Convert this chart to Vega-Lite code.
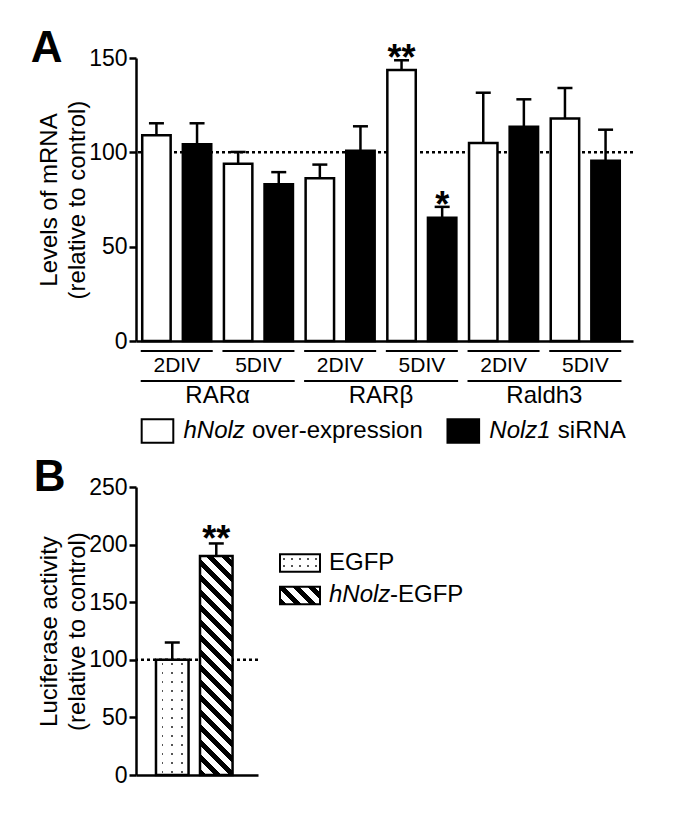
{
  "$schema": "https://vega.github.io/schema/vega-lite/v6.json",
  "padding": {"left": 30, "top": 27, "right": 5, "bottom": 5},
  "background": "white",
  "config": {
    "font": "Liberation Sans",
    "view": {"stroke": null},
    "axis": {"domainColor": "black", "tickColor": "black", "labelColor": "black", "titleColor": "black", "grid": false, "labelFontSize": 23, "titleFontSize": 24, "titleFontWeight": "normal", "domainWidth": 2.5, "tickWidth": 2.5, "tickSize": 7, "labelPadding": 2},
    "title": {"color": "black"},
    "text": {"color": "black"}
  },
  "datasets": {
    "A": [
      {"group": "RARα 2DIV", "treatment": "over", "value": 109, "upper": 115.4, "star": ""},
      {"group": "RARα 2DIV", "treatment": "siRNA", "value": 104.3, "upper": 115.4, "star": ""},
      {"group": "RARα 5DIV", "treatment": "over", "value": 94, "upper": 100.2, "star": ""},
      {"group": "RARα 5DIV", "treatment": "siRNA", "value": 83.1, "upper": 89.5, "star": ""},
      {"group": "RARβ 2DIV", "treatment": "over", "value": 86.3, "upper": 93.5, "star": ""},
      {"group": "RARβ 2DIV", "treatment": "siRNA", "value": 100.9, "upper": 113.8, "star": ""},
      {"group": "RARβ 5DIV", "treatment": "over", "value": 143.6, "upper": 148.8, "star": "**"},
      {"group": "RARβ 5DIV", "treatment": "siRNA", "value": 65.3, "upper": 71.1, "star": "*"},
      {"group": "Raldh3 2DIV", "treatment": "over", "value": 105, "upper": 131.6, "star": ""},
      {"group": "Raldh3 2DIV", "treatment": "siRNA", "value": 113.5, "upper": 128.1, "star": ""},
      {"group": "Raldh3 5DIV", "treatment": "over", "value": 117.9, "upper": 134.1, "star": ""},
      {"group": "Raldh3 5DIV", "treatment": "siRNA", "value": 95.6, "upper": 112, "star": ""}
    ],
    "groups": [
      {"group": "RARα 2DIV", "div": "2DIV"},
      {"group": "RARα 5DIV", "div": "5DIV"},
      {"group": "RARβ 2DIV", "div": "2DIV"},
      {"group": "RARβ 5DIV", "div": "5DIV"},
      {"group": "Raldh3 2DIV", "div": "2DIV"},
      {"group": "Raldh3 5DIV", "div": "5DIV"}
    ],
    "genes": [{"gene": "RARα"}, {"gene": "RARβ"}, {"gene": "Raldh3"}],
    "legendA": [
      {"treatment": "over", "italic": "hNolz", "rest": "over-expression"},
      {"treatment": "siRNA", "italic": "Nolz1", "rest": "siRNA"}
    ],
    "B": [
      {"construct": "EGFP", "value": 100, "upper": 115, "star": ""},
      {"construct": "hNolz-EGFP", "value": 190, "upper": 201, "star": "**"}
    ],
    "legendB": [
      {"construct": "EGFP", "italic": "", "rest": "EGFP"},
      {"construct": "hNolz-EGFP", "italic": "hNolz", "rest": "-EGFP"}
    ],
    "ref": [{"control": 100}]
  },
  "spacing": 0,
  "bounds": "flush",
  "vconcat": [
    {
      "width": 497,
      "height": 283,
      "title": {"text": "A", "anchor": "start", "frame": "bounds", "fontSize": 44, "fontWeight": "bold", "baseline": "alphabetic", "offset": -65, "dx": -7},
      "layer": [
        {
          "data": {"name": "ref"},
          "mark": {"type": "rule", "strokeDash": [3, 3], "strokeWidth": 2.5, "color": "black"},
          "encoding": {
            "y": {"field": "control", "type": "quantitative", "scale": {"domain": [0, 150], "nice": false}, "axis": {"values": [0, 50, 100, 150], "title": ["Levels of mRNA", "(relative to control)"], "titlePadding": -1, "titleLineHeight": 28}}
          }
        },
        {
          "data": {"name": "A"},
          "mark": {"type": "bar", "stroke": "black", "strokeWidth": 2.5},
          "encoding": {
            "x": {"field": "group", "type": "nominal", "scale": {"domain": ["RARα 2DIV", "RARα 5DIV", "RARβ 2DIV", "RARβ 5DIV", "Raldh3 2DIV", "Raldh3 5DIV"], "paddingInner": 0.155, "paddingOuter": 0.119, "align": 0.32}, "axis": {"labels": false, "ticks": false, "title": null, "domain": true}},
            "xOffset": {"field": "treatment", "type": "nominal", "scale": {"domain": ["over", "siRNA"], "paddingInner": 0.3, "paddingOuter": 0}},
            "y": {"field": "value", "type": "quantitative", "scale": {"domain": [0, 150], "nice": false}, "axis": {"values": [0, 50, 100, 150], "title": ["Levels of mRNA", "(relative to control)"], "titlePadding": -1, "titleLineHeight": 28}},
            "fill": {"field": "treatment", "type": "nominal", "scale": {"domain": ["over", "siRNA"], "range": ["white", "black"]}, "legend": null}
          }
        },
        {
          "data": {"name": "A"},
          "mark": {"type": "rule", "strokeWidth": 2.5, "color": "black"},
          "encoding": {
            "x": {"field": "group", "type": "nominal", "scale": {"domain": ["RARα 2DIV", "RARα 5DIV", "RARβ 2DIV", "RARβ 5DIV", "Raldh3 2DIV", "Raldh3 5DIV"], "paddingInner": 0.155, "paddingOuter": 0.119, "align": 0.32}, "axis": {"labels": false, "ticks": false, "title": null, "domain": true}},
            "xOffset": {"field": "treatment", "type": "nominal", "scale": {"domain": ["over", "siRNA"], "paddingInner": 0.3, "paddingOuter": 0}},
            "y": {"field": "value", "type": "quantitative", "scale": {"domain": [0, 150], "nice": false}, "axis": {"values": [0, 50, 100, 150], "title": ["Levels of mRNA", "(relative to control)"], "titlePadding": -1, "titleLineHeight": 28}},
            "y2": {"field": "upper"}
          }
        },
        {
          "data": {"name": "A"},
          "mark": {"type": "tick", "orient": "horizontal", "size": 15, "thickness": 2.5, "color": "black", "opacity": 1},
          "encoding": {
            "x": {"field": "group", "type": "nominal", "scale": {"domain": ["RARα 2DIV", "RARα 5DIV", "RARβ 2DIV", "RARβ 5DIV", "Raldh3 2DIV", "Raldh3 5DIV"], "paddingInner": 0.155, "paddingOuter": 0.119, "align": 0.32}, "axis": {"labels": false, "ticks": false, "title": null, "domain": true}},
            "xOffset": {"field": "treatment", "type": "nominal", "scale": {"domain": ["over", "siRNA"], "paddingInner": 0.3, "paddingOuter": 0}},
            "y": {"field": "upper", "type": "quantitative", "scale": {"domain": [0, 150], "nice": false}, "axis": {"values": [0, 50, 100, 150], "title": ["Levels of mRNA", "(relative to control)"], "titlePadding": -1, "titleLineHeight": 28}}
          }
        },
        {
          "data": {"name": "A"},
          "transform": [{"filter": "datum.star != ''"}],
          "mark": {"type": "text", "fontSize": 36, "fontWeight": "bold", "baseline": "alphabetic", "dy": 10, "color": "black"},
          "encoding": {
            "x": {"field": "group", "type": "nominal", "scale": {"domain": ["RARα 2DIV", "RARα 5DIV", "RARβ 2DIV", "RARβ 5DIV", "Raldh3 2DIV", "Raldh3 5DIV"], "paddingInner": 0.155, "paddingOuter": 0.119, "align": 0.32}, "axis": {"labels": false, "ticks": false, "title": null, "domain": true}},
            "xOffset": {"field": "treatment", "type": "nominal", "scale": {"domain": ["over", "siRNA"], "paddingInner": 0.3, "paddingOuter": 0}},
            "y": {"field": "upper", "type": "quantitative", "scale": {"domain": [0, 150], "nice": false}, "axis": {"values": [0, 50, 100, 150], "title": ["Levels of mRNA", "(relative to control)"], "titlePadding": -1, "titleLineHeight": 28}},
            "text": {"field": "star"}
          }
        }
      ]
    },
    {
      "width": 497,
      "height": 75,
      "resolve": {"scale": {"x": "independent"}},
      "layer": [
        {
          "data": {"name": "groups"},
          "mark": {"type": "tick", "orient": "horizontal", "size": 72, "thickness": 2, "color": "black", "opacity": 1},
          "encoding": {
            "x": {"field": "group", "type": "nominal", "scale": {"domain": ["RARα 2DIV", "RARα 5DIV", "RARβ 2DIV", "RARβ 5DIV", "Raldh3 2DIV", "Raldh3 5DIV"], "paddingInner": 0.155, "paddingOuter": 0.119, "align": 0.32}, "axis": null},
            "y": {"datum": "pairline", "type": "nominal", "scale": {"type": "point", "domain": ["pairline", "divtext", "geneline", "genetext"], "padding": 1, "align": 0.3333}, "axis": null}
          }
        },
        {
          "data": {"name": "groups"},
          "mark": {"type": "text", "fontSize": 21, "align": "center", "baseline": "middle", "color": "black"},
          "encoding": {
            "x": {"field": "group", "type": "nominal", "scale": {"type": "point", "domain": ["RARα 2DIV", "RARα 5DIV", "RARβ 2DIV", "RARβ 5DIV", "Raldh3 2DIV", "Raldh3 5DIV"], "padding": 0.5416, "align": 0.461}, "axis": null},
            "y": {"datum": "divtext", "type": "nominal", "scale": {"type": "point", "domain": ["pairline", "divtext", "geneline", "genetext"], "padding": 1, "align": 0.3333}, "axis": null},
            "text": {"field": "div"}
          }
        },
        {
          "data": {"name": "genes"},
          "mark": {"type": "tick", "orient": "horizontal", "size": 154, "thickness": 2, "color": "black", "opacity": 1},
          "encoding": {
            "x": {"field": "gene", "type": "nominal", "scale": {"domain": ["RARα", "RARβ", "Raldh3"], "paddingInner": 0, "paddingOuter": 0.0208, "align": 0}, "axis": null},
            "y": {"datum": "geneline", "type": "nominal", "scale": {"type": "point", "domain": ["pairline", "divtext", "geneline", "genetext"], "padding": 1, "align": 0.3333}, "axis": null}
          }
        },
        {
          "data": {"name": "genes"},
          "mark": {"type": "text", "fontSize": 24, "align": "center", "baseline": "middle", "color": "black"},
          "encoding": {
            "x": {"field": "gene", "type": "nominal", "scale": {"type": "point", "domain": ["RARα", "RARβ", "Raldh3"], "padding": 0.5208, "align": 0.4794}, "axis": null},
            "y": {"datum": "genetext", "type": "nominal", "scale": {"type": "point", "domain": ["pairline", "divtext", "geneline", "genetext"], "padding": 1, "align": 0.3333}, "axis": null},
            "text": {"field": "gene"}
          }
        }
      ]
    },
    {
      "width": 497,
      "height": 71,
      "data": {"name": "legendA"},
      "encoding": {
        "x": {"field": "treatment", "type": "nominal", "scale": {"type": "point", "domain": ["over", "siRNA"], "padding": 0.3126, "align": 0.1124}, "axis": null},
        "y": {"datum": "legend", "type": "nominal", "scale": {"type": "point", "domain": ["legend"], "padding": 0, "align": 0.211}, "axis": null}
      },
      "layer": [
        {
          "mark": {"type": "point", "shape": "M-1,-0.737L1,-0.737L1,0.737L-1,0.737Z", "size": 1000, "filled": true, "stroke": "black", "strokeWidth": 2, "opacity": 1},
          "encoding": {
            "fill": {"field": "treatment", "type": "nominal", "scale": {"domain": ["over", "siRNA"], "range": ["white", "black"]}, "legend": null}
          }
        },
        {
          "mark": {"type": "text", "fontSize": 24, "fontStyle": "italic", "align": "left", "baseline": "middle", "dx": 26, "color": "black"},
          "encoding": {"text": {"field": "italic"}}
        },
        {
          "mark": {"type": "text", "fontSize": 24, "align": "left", "baseline": "middle", "dx": 94.5, "color": "black"},
          "encoding": {"text": {"field": "rest"}}
        }
      ]
    },
    {
      "spacing": 22,
      "bounds": "flush",
      "hconcat": [
        {
          "width": 122,
          "height": 288,
          "title": {"text": "B", "anchor": "start", "frame": "bounds", "fontSize": 44, "fontWeight": "bold", "baseline": "alphabetic", "offset": -59, "dx": -4},
          "layer": [
            {
              "data": {"name": "ref"},
              "mark": {"type": "rule", "strokeDash": [3, 3], "strokeWidth": 2.5, "color": "black"},
              "encoding": {
                "y": {"field": "control", "type": "quantitative", "scale": {"domain": [0, 250], "nice": false}, "axis": {"values": [0, 50, 100, 150, 200, 250], "title": ["Luciferase activity", "(relative to control)"], "titlePadding": -1, "titleLineHeight": 28}}
              }
            },
            {
              "data": {"name": "B"},
              "transform": [{"filter": "datum.construct == 'EGFP'"}],
              "mark": {"type": "bar", "strokeWidth": 0, "fill": {"gradient": "linear", "x1": 0, "y1": 0, "x2": 1, "y2": 0, "stops": [
                {"offset": 0, "color": "white"}, {"offset": 0.17, "color": "white"}, {"offset": 0.17, "color": "#555555"}, {"offset": 0.23, "color": "#555555"}, {"offset": 0.23, "color": "white"},
                {"offset": 0.47, "color": "white"}, {"offset": 0.47, "color": "#555555"}, {"offset": 0.53, "color": "#555555"}, {"offset": 0.53, "color": "white"},
                {"offset": 0.77, "color": "white"}, {"offset": 0.77, "color": "#555555"}, {"offset": 0.83, "color": "#555555"}, {"offset": 0.83, "color": "white"}, {"offset": 1, "color": "white"}]}},
              "encoding": {
                "x": {"field": "construct", "type": "nominal", "scale": {"domain": ["EGFP", "hNolz-EGFP"], "paddingInner": 0.26, "paddingOuter": 0.516, "align": 0.44}, "axis": {"labels": false, "ticks": false, "title": null, "domain": true}},
                "y": {"field": "value", "type": "quantitative", "scale": {"domain": [0, 250], "nice": false}, "axis": {"values": [0, 50, 100, 150, 200, 250], "title": ["Luciferase activity", "(relative to control)"], "titlePadding": -1, "titleLineHeight": 28}}
              }
            },
            {
              "data": {"name": "B"},
              "transform": [{"filter": "datum.construct == 'EGFP'"}],
              "mark": {"type": "bar", "stroke": "black", "strokeWidth": 2.5, "fill": {"gradient": "linear", "x1": 0, "y1": 0, "x2": 0, "y2": 1, "stops": [
                {"offset": 0, "color": "white"}, {"offset": 0.0304, "color": "white"}, {"offset": 0.0304, "color": "rgba(255,255,255,0)"}, {"offset": 0.0477, "color": "rgba(255,255,255,0)"}, {"offset": 0.0477, "color": "white"},
                {"offset": 0.1085, "color": "white"}, {"offset": 0.1085, "color": "rgba(255,255,255,0)"}, {"offset": 0.1259, "color": "rgba(255,255,255,0)"}, {"offset": 0.1259, "color": "white"},
                {"offset": 0.1866, "color": "white"}, {"offset": 0.1866, "color": "rgba(255,255,255,0)"}, {"offset": 0.2040, "color": "rgba(255,255,255,0)"}, {"offset": 0.2040, "color": "white"},
                {"offset": 0.2648, "color": "white"}, {"offset": 0.2648, "color": "rgba(255,255,255,0)"}, {"offset": 0.2821, "color": "rgba(255,255,255,0)"}, {"offset": 0.2821, "color": "white"},
                {"offset": 0.3429, "color": "white"}, {"offset": 0.3429, "color": "rgba(255,255,255,0)"}, {"offset": 0.3602, "color": "rgba(255,255,255,0)"}, {"offset": 0.3602, "color": "white"},
                {"offset": 0.4210, "color": "white"}, {"offset": 0.4210, "color": "rgba(255,255,255,0)"}, {"offset": 0.4384, "color": "rgba(255,255,255,0)"}, {"offset": 0.4384, "color": "white"},
                {"offset": 0.4991, "color": "white"}, {"offset": 0.4991, "color": "rgba(255,255,255,0)"}, {"offset": 0.5165, "color": "rgba(255,255,255,0)"}, {"offset": 0.5165, "color": "white"},
                {"offset": 0.5773, "color": "white"}, {"offset": 0.5773, "color": "rgba(255,255,255,0)"}, {"offset": 0.5946, "color": "rgba(255,255,255,0)"}, {"offset": 0.5946, "color": "white"},
                {"offset": 0.6554, "color": "white"}, {"offset": 0.6554, "color": "rgba(255,255,255,0)"}, {"offset": 0.6727, "color": "rgba(255,255,255,0)"}, {"offset": 0.6727, "color": "white"},
                {"offset": 0.7335, "color": "white"}, {"offset": 0.7335, "color": "rgba(255,255,255,0)"}, {"offset": 0.7509, "color": "rgba(255,255,255,0)"}, {"offset": 0.7509, "color": "white"},
                {"offset": 0.8116, "color": "white"}, {"offset": 0.8116, "color": "rgba(255,255,255,0)"}, {"offset": 0.8290, "color": "rgba(255,255,255,0)"}, {"offset": 0.8290, "color": "white"},
                {"offset": 0.8898, "color": "white"}, {"offset": 0.8898, "color": "rgba(255,255,255,0)"}, {"offset": 0.9071, "color": "rgba(255,255,255,0)"}, {"offset": 0.9071, "color": "white"},
                {"offset": 0.9679, "color": "white"}, {"offset": 0.9679, "color": "rgba(255,255,255,0)"}, {"offset": 0.9852, "color": "rgba(255,255,255,0)"}, {"offset": 0.9852, "color": "white"},
                {"offset": 1, "color": "white"}]}},
              "encoding": {
                "x": {"field": "construct", "type": "nominal", "scale": {"domain": ["EGFP", "hNolz-EGFP"], "paddingInner": 0.26, "paddingOuter": 0.516, "align": 0.44}, "axis": {"labels": false, "ticks": false, "title": null, "domain": true}},
                "y": {"field": "value", "type": "quantitative", "scale": {"domain": [0, 250], "nice": false}, "axis": {"values": [0, 50, 100, 150, 200, 250], "title": ["Luciferase activity", "(relative to control)"], "titlePadding": -1, "titleLineHeight": 28}}
              }
            },
            {
              "data": {"name": "B"},
              "transform": [{"filter": "datum.construct == 'hNolz-EGFP'"}],
              "mark": {"type": "bar", "stroke": "black", "strokeWidth": 2.5, "fill": {"gradient": "linear", "x1": 0, "y1": 1, "x2": 0.1674, "y2": -0.124, "stops": [
                {"offset": 0, "color": "black"}, {"offset": 0.0268, "color": "black"}, {"offset": 0.0268, "color": "white"}, {"offset": 0.0596, "color": "white"},
                {"offset": 0.0596, "color": "black"}, {"offset": 0.0865, "color": "black"}, {"offset": 0.0865, "color": "white"}, {"offset": 0.1193, "color": "white"},
                {"offset": 0.1193, "color": "black"}, {"offset": 0.1461, "color": "black"}, {"offset": 0.1461, "color": "white"}, {"offset": 0.1789, "color": "white"},
                {"offset": 0.1789, "color": "black"}, {"offset": 0.2058, "color": "black"}, {"offset": 0.2058, "color": "white"}, {"offset": 0.2386, "color": "white"},
                {"offset": 0.2386, "color": "black"}, {"offset": 0.2654, "color": "black"}, {"offset": 0.2654, "color": "white"}, {"offset": 0.2982, "color": "white"},
                {"offset": 0.2982, "color": "black"}, {"offset": 0.3250, "color": "black"}, {"offset": 0.3250, "color": "white"}, {"offset": 0.3578, "color": "white"},
                {"offset": 0.3578, "color": "black"}, {"offset": 0.3847, "color": "black"}, {"offset": 0.3847, "color": "white"}, {"offset": 0.4175, "color": "white"},
                {"offset": 0.4175, "color": "black"}, {"offset": 0.4443, "color": "black"}, {"offset": 0.4443, "color": "white"}, {"offset": 0.4771, "color": "white"},
                {"offset": 0.4771, "color": "black"}, {"offset": 0.5040, "color": "black"}, {"offset": 0.5040, "color": "white"}, {"offset": 0.5368, "color": "white"},
                {"offset": 0.5368, "color": "black"}, {"offset": 0.5636, "color": "black"}, {"offset": 0.5636, "color": "white"}, {"offset": 0.5964, "color": "white"},
                {"offset": 0.5964, "color": "black"}, {"offset": 0.6232, "color": "black"}, {"offset": 0.6232, "color": "white"}, {"offset": 0.6560, "color": "white"},
                {"offset": 0.6560, "color": "black"}, {"offset": 0.6829, "color": "black"}, {"offset": 0.6829, "color": "white"}, {"offset": 0.7157, "color": "white"},
                {"offset": 0.7157, "color": "black"}, {"offset": 0.7425, "color": "black"}, {"offset": 0.7425, "color": "white"}, {"offset": 0.7753, "color": "white"},
                {"offset": 0.7753, "color": "black"}, {"offset": 0.8022, "color": "black"}, {"offset": 0.8022, "color": "white"}, {"offset": 0.8350, "color": "white"},
                {"offset": 0.8350, "color": "black"}, {"offset": 0.8618, "color": "black"}, {"offset": 0.8618, "color": "white"}, {"offset": 0.8946, "color": "white"},
                {"offset": 0.8946, "color": "black"}, {"offset": 0.9214, "color": "black"}, {"offset": 0.9214, "color": "white"}, {"offset": 0.9542, "color": "white"},
                {"offset": 0.9542, "color": "black"}, {"offset": 0.9811, "color": "black"}, {"offset": 0.9811, "color": "white"}, {"offset": 1, "color": "white"}]}},
              "encoding": {
                "x": {"field": "construct", "type": "nominal", "scale": {"domain": ["EGFP", "hNolz-EGFP"], "paddingInner": 0.26, "paddingOuter": 0.516, "align": 0.44}, "axis": {"labels": false, "ticks": false, "title": null, "domain": true}},
                "y": {"field": "value", "type": "quantitative", "scale": {"domain": [0, 250], "nice": false}, "axis": {"values": [0, 50, 100, 150, 200, 250], "title": ["Luciferase activity", "(relative to control)"], "titlePadding": -1, "titleLineHeight": 28}}
              }
            },
            {
              "data": {"name": "B"},
              "mark": {"type": "rule", "strokeWidth": 2.5, "color": "black"},
              "encoding": {
                "x": {"field": "construct", "type": "nominal", "scale": {"domain": ["EGFP", "hNolz-EGFP"], "paddingInner": 0.26, "paddingOuter": 0.516, "align": 0.44}, "axis": {"labels": false, "ticks": false, "title": null, "domain": true}},
                "y": {"field": "value", "type": "quantitative", "scale": {"domain": [0, 250], "nice": false}, "axis": {"values": [0, 50, 100, 150, 200, 250], "title": ["Luciferase activity", "(relative to control)"], "titlePadding": -1, "titleLineHeight": 28}},
                "y2": {"field": "upper"}
              }
            },
            {
              "data": {"name": "B"},
              "mark": {"type": "tick", "orient": "horizontal", "size": 15, "thickness": 2.5, "color": "black", "opacity": 1},
              "encoding": {
                "x": {"field": "construct", "type": "nominal", "scale": {"domain": ["EGFP", "hNolz-EGFP"], "paddingInner": 0.26, "paddingOuter": 0.516, "align": 0.44}, "axis": {"labels": false, "ticks": false, "title": null, "domain": true}},
                "y": {"field": "upper", "type": "quantitative", "scale": {"domain": [0, 250], "nice": false}, "axis": {"values": [0, 50, 100, 150, 200, 250], "title": ["Luciferase activity", "(relative to control)"], "titlePadding": -1, "titleLineHeight": 28}}
              }
            },
            {
              "data": {"name": "B"},
              "transform": [{"filter": "datum.star != ''"}],
              "mark": {"type": "text", "fontSize": 36, "fontWeight": "bold", "baseline": "alphabetic", "dy": 8, "color": "black"},
              "encoding": {
                "x": {"field": "construct", "type": "nominal", "scale": {"domain": ["EGFP", "hNolz-EGFP"], "paddingInner": 0.26, "paddingOuter": 0.516, "align": 0.44}, "axis": {"labels": false, "ticks": false, "title": null, "domain": true}},
                "y": {"field": "upper", "type": "quantitative", "scale": {"domain": [0, 250], "nice": false}, "axis": {"values": [0, 50, 100, 150, 200, 250], "title": ["Luciferase activity", "(relative to control)"], "titlePadding": -1, "titleLineHeight": 28}},
                "text": {"field": "star"}
              }
            }
          ]
        },
        {
          "width": 40,
          "height": 130,
          "data": {"name": "legendB"},
          "encoding": {
            "y": {"field": "construct", "type": "nominal", "scale": {"type": "point", "domain": ["gap", "EGFP", "hNolz-EGFP"], "padding": 1, "align": 0.669}, "axis": null}
          },
          "layer": [
            {
              "transform": [{"filter": "datum.construct == 'EGFP'"}],
              "mark": {"type": "point", "shape": "M-1,-0.4375L1,-0.4375L1,0.4375L-1,0.4375Z", "size": 1600, "filled": true, "opacity": 1, "strokeWidth": 0, "fill": {"gradient": "linear", "x1": 0, "y1": 0, "x2": 1, "y2": 0, "stops": [
                {"offset": 0, "color": "white"}, {"offset": 0.075, "color": "white"}, {"offset": 0.075, "color": "#555555"}, {"offset": 0.125, "color": "#555555"}, {"offset": 0.125, "color": "white"},
                {"offset": 0.275, "color": "white"}, {"offset": 0.275, "color": "#555555"}, {"offset": 0.325, "color": "#555555"}, {"offset": 0.325, "color": "white"},
                {"offset": 0.475, "color": "white"}, {"offset": 0.475, "color": "#555555"}, {"offset": 0.525, "color": "#555555"}, {"offset": 0.525, "color": "white"},
                {"offset": 0.675, "color": "white"}, {"offset": 0.675, "color": "#555555"}, {"offset": 0.725, "color": "#555555"}, {"offset": 0.725, "color": "white"},
                {"offset": 0.875, "color": "white"}, {"offset": 0.875, "color": "#555555"}, {"offset": 0.925, "color": "#555555"}, {"offset": 0.925, "color": "white"}, {"offset": 1, "color": "white"}]}}
            },
            {
              "transform": [{"filter": "datum.construct == 'EGFP'"}],
              "mark": {"type": "point", "shape": "M-1,-0.4375L1,-0.4375L1,0.4375L-1,0.4375Z", "size": 1600, "filled": true, "opacity": 1, "stroke": "black", "strokeWidth": 2, "fill": {"gradient": "linear", "x1": 0, "y1": 0, "x2": 0, "y2": 1, "stops": [
                {"offset": 0, "color": "white"}, {"offset": 0.243, "color": "white"}, {"offset": 0.243, "color": "rgba(255,255,255,0)"}, {"offset": 0.357, "color": "rgba(255,255,255,0)"}, {"offset": 0.357, "color": "white"},
                {"offset": 0.643, "color": "white"}, {"offset": 0.643, "color": "rgba(255,255,255,0)"}, {"offset": 0.757, "color": "rgba(255,255,255,0)"}, {"offset": 0.757, "color": "white"}, {"offset": 1, "color": "white"}]}}
            },
            {
              "transform": [{"filter": "datum.construct == 'hNolz-EGFP'"}],
              "mark": {"type": "point", "shape": "M-1,-0.4375L1,-0.4375L1,0.4375L-1,0.4375Z", "size": 1600, "filled": true, "opacity": 1, "stroke": "black", "strokeWidth": 2, "fill": {"gradient": "linear", "x1": 0, "y1": 1, "x2": 1.2066, "y2": 0.4721, "stops": [
                {"offset": 0, "color": "black"}, {"offset": 0.1174, "color": "black"}, {"offset": 0.1174, "color": "white"}, {"offset": 0.2609, "color": "white"},
                {"offset": 0.2609, "color": "black"}, {"offset": 0.3783, "color": "black"}, {"offset": 0.3783, "color": "white"}, {"offset": 0.5217, "color": "white"},
                {"offset": 0.5217, "color": "black"}, {"offset": 0.6391, "color": "black"}, {"offset": 0.6391, "color": "white"}, {"offset": 0.7826, "color": "white"},
                {"offset": 0.7826, "color": "black"}, {"offset": 0.9, "color": "black"}, {"offset": 0.9, "color": "white"}, {"offset": 1, "color": "white"}]}}
            },
            {
              "transform": [{"filter": "datum.construct == 'EGFP'"}],
              "mark": {"type": "text", "fontSize": 24, "align": "left", "baseline": "middle", "dx": 29, "color": "black"},
              "encoding": {"text": {"field": "rest"}}
            },
            {
              "transform": [{"filter": "datum.italic != ''"}],
              "mark": {"type": "text", "fontSize": 24, "fontStyle": "italic", "align": "left", "baseline": "middle", "dx": 29, "color": "black"},
              "encoding": {"text": {"field": "italic"}}
            },
            {
              "transform": [{"filter": "datum.construct == 'hNolz-EGFP'"}],
              "mark": {"type": "text", "fontSize": 24, "align": "left", "baseline": "middle", "dx": 90, "color": "black"},
              "encoding": {"text": {"field": "rest"}}
            }
          ]
        }
      ]
    }
  ]
}
